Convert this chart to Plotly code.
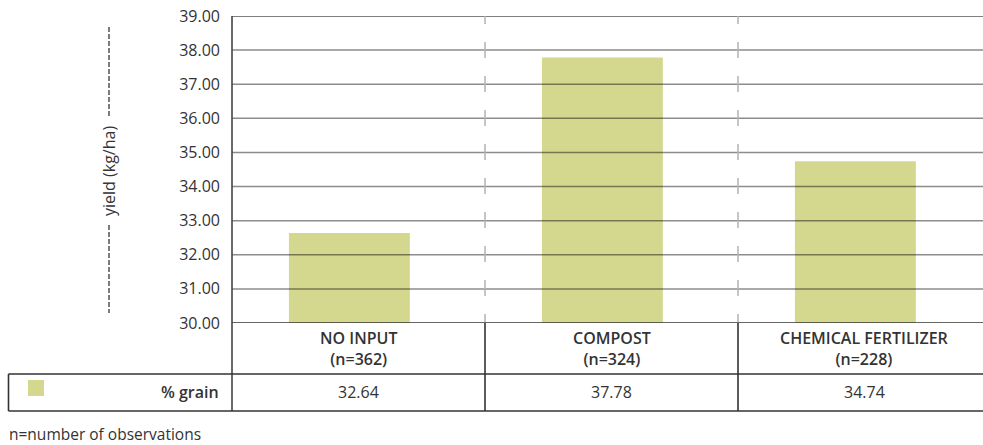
import plotly.graph_objects as go

# ---------------- data ----------------
categories = ["NO INPUT", "COMPOST", "CHEMICAL FERTILIZER"]
observations = [362, 324, 228]
grain_pct = [32.64, 37.78, 34.74]
y_ticks = [30, 31, 32, 33, 34, 35, 36, 37, 38, 39]
series_name = "% grain"
y_title = "yield (kg/ha)"
footnote = "n=number of observations"

# ---------------- style ----------------
W, H = 983, 445
L, R, T, B = 232, 0, 16, 122
PW, PH = W - L - R, H - T - B
FONT = "Open Sans"
TXT = "#333333"
BAR = "#d4d88e"
DARK = "#333333"


def px_x(p):
    return (p - L) / PW


def px_y(p):
    return (H - B - p) / PH


n_cat = len(categories)
x_idx = list(range(n_cat))
col_w = 253.0  # pixels per category column
x_max = -0.5 + PW / col_w

fig = go.Figure()
fig.add_trace(go.Bar(
    x=x_idx, y=grain_pct, name=series_name,
    marker=dict(color=BAR, line=dict(width=0)),
    width=0.478, offset=-0.275,
    hoverinfo="skip", showlegend=False,
))

shapes = []
ymin, ymax = y_ticks[0], y_ticks[-1]

# horizontal grid lines (above bars)
for t in y_ticks:
    if t == ymin:
        col, w = DARK, 1.6
    elif t == ymax:
        col, w = "#555555", 1.6
    else:
        col, w = "rgba(0,0,0,0.45)", 1.5
    shapes.append(dict(type="line", xref="paper", yref="y", x0=0, x1=1, y0=t, y1=t,
                       line=dict(color=col, width=w), layer="above"))

# dashed column dividers in plot area
dash_pat = "8px,18px," + "16px,18px," * 8 + "8px"
for i in range(n_cat - 1):
    shapes.append(dict(type="line", xref="x", yref="y", x0=i + 0.5, x1=i + 0.5, y0=ymax, y1=ymin,
                       line=dict(color="#b3b3b3", width=1.5, dash=dash_pat), layer="above"))

# table geometry
y_mid = px_y(374)
y_bot = px_y(411)
x_left = px_x(8.5)

# left axis line extending into table
shapes.append(dict(type="line", xref="paper", yref="paper", x0=0, x1=0, y0=1, y1=y_bot,
                   line=dict(color="#444444", width=1.6), layer="above"))
# column separators in table
for i in range(n_cat - 1):
    shapes.append(dict(type="line", xref="x", yref="paper", x0=i + 0.5, x1=i + 0.5, y0=0, y1=y_bot,
                       line=dict(color=DARK, width=1.6), layer="above"))
# table horizontal lines
for yy in (y_mid, y_bot):
    shapes.append(dict(type="line", xref="paper", yref="paper", x0=x_left, x1=1, y0=yy, y1=yy,
                       line=dict(color=DARK, width=1.6), layer="above"))
# left border of legend cell
shapes.append(dict(type="line", xref="paper", yref="paper", x0=x_left, x1=x_left, y0=y_mid, y1=y_bot,
                   line=dict(color=DARK, width=1.6), layer="above"))
# legend swatch
shapes.append(dict(type="rect", xref="paper", yref="paper", x0=px_x(28), x1=px_x(44),
                   y0=px_y(396), y1=px_y(380), fillcolor=BAR, line=dict(width=0), layer="above"))

# y title dashed lines
ty_x = px_x(109)
for a, b in ((27, 117), (225, 313)):
    shapes.append(dict(type="line", xref="paper", yref="paper", x0=ty_x, x1=ty_x, y0=px_y(a), y1=px_y(b),
                       line=dict(color="#6e6e6e", width=1.8, dash="5px,2px"), layer="above"))

annotations = []
# category labels
for i, (c, n) in enumerate(zip(categories, observations)):
    annotations.append(dict(xref="x", yref="paper", x=i, y=px_y(348.5), text=f"{c}<br>(n={n})",
                            showarrow=False, xanchor="center", yanchor="middle",
                            font=dict(family=FONT, size=16, color=TXT, weight=600)))
    annotations.append(dict(xref="x", yref="paper", x=i, y=px_y(392.5), text=f"{grain_pct[i]:.2f}",
                            showarrow=False, xanchor="center", yanchor="middle",
                            font=dict(family=FONT, size=16, color=TXT)))
# series label
annotations.append(dict(xref="paper", yref="paper", x=px_x(221), y=px_y(392.5), text=series_name,
                        showarrow=False, xanchor="right", yanchor="middle",
                        font=dict(family=FONT, size=16, color=TXT, weight=600)))
# y title
annotations.append(dict(xref="paper", yref="paper", x=ty_x, y=px_y(171), text=y_title, textangle=-90,
                        showarrow=False, xanchor="center", yanchor="middle",
                        font=dict(family=FONT, size=16, color=TXT)))
# footnote
annotations.append(dict(xref="paper", yref="paper", x=px_x(7), y=px_y(434), text=footnote,
                        showarrow=False, xanchor="left", yanchor="middle",
                        font=dict(family=FONT, size=15.5, color=TXT)))

fig.update_layout(
    width=W, height=H, autosize=False,
    margin=dict(l=L, r=R, t=T, b=B, pad=0),
    paper_bgcolor="white", plot_bgcolor="white",
    showlegend=False,
    shapes=shapes, annotations=annotations,
    xaxis=dict(range=[-0.5, x_max], showgrid=False, zeroline=False, showline=False,
               showticklabels=False, ticks="", fixedrange=True),
    yaxis=dict(range=[ymin, ymax], tickvals=y_ticks, ticktext=[f"{t:.2f}" for t in y_ticks],
               showgrid=False, zeroline=False, showline=False, ticks="",
               ticklabelstandoff=11, tickfont=dict(family=FONT, size=16, color=TXT),
               fixedrange=True),
)

fig.write_html("out.html")
